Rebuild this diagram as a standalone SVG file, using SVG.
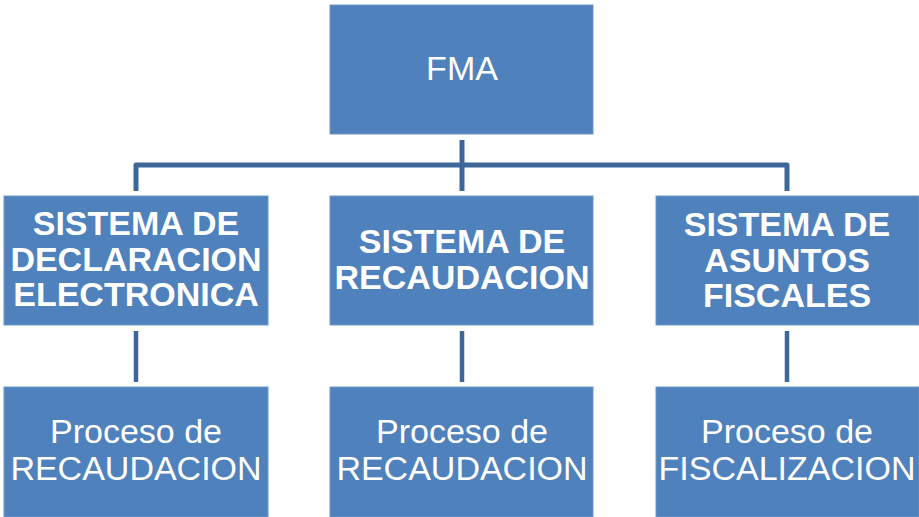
<svg xmlns="http://www.w3.org/2000/svg" width="919" height="517" viewBox="0 0 919 517">
<style>
.box{fill:#4F81BD;stroke:#6F97C9;stroke-width:1}
.t{fill:#FFFFFF;font-family:"Liberation Sans",Arial,sans-serif;text-anchor:middle}
.b{font-weight:bold;font-size:34px}
.r{font-size:34px}
.c{fill:none;stroke:#3D6699;stroke-width:5;stroke-linejoin:round;stroke-linecap:butt}
.c2{fill:none;stroke:#3D6699;stroke-width:4.5}
</style>
<rect width="919" height="517" fill="#FFFFFF"/>
<g id="connectors">
<path class="c" d="M462 140 V191"/>
<path class="c" d="M136 191 V165 H787 V191"/>
<path class="c2" d="M136 331 V382"/>
<path class="c2" d="M462 331 V382"/>
<path class="c2" d="M787 331 V382"/>
</g>
<g id="fma">
<rect class="box" x="330" y="5" width="263" height="129"/>
<text class="t r" x="462" y="80">FMA</text>
</g>
<g id="sde">
<rect class="box" x="4" y="196" width="264" height="129"/>
<text class="t b" x="136" y="235">SISTEMA DE</text>
<text class="t b" x="136" y="270.5">DECLARACION</text>
<text class="t b" x="136" y="306">ELECTRONICA</text>
</g>
<g id="sr">
<rect class="box" x="330" y="196" width="263" height="129"/>
<text class="t b" x="462" y="253">SISTEMA DE</text>
<text class="t b" x="462" y="289">RECAUDACION</text>
</g>
<g id="saf">
<rect class="box" x="656" y="196" width="263" height="129"/>
<text class="t b" x="787" y="236">SISTEMA DE</text>
<text class="t b" x="787" y="271.5">ASUNTOS</text>
<text class="t b" x="787" y="307">FISCALES</text>
</g>
<g id="pr1">
<rect class="box" x="4" y="387" width="264" height="130"/>
<text class="t r" x="136" y="443">Proceso de</text>
<text class="t r" x="136" y="480">RECAUDACION</text>
</g>
<g id="pr2">
<rect class="box" x="330" y="387" width="263" height="130"/>
<text class="t r" x="462" y="443">Proceso de</text>
<text class="t r" x="462" y="480">RECAUDACION</text>
</g>
<g id="pf">
<rect class="box" x="656" y="387" width="263" height="130"/>
<text class="t r" x="787" y="443">Proceso de</text>
<text class="t r" x="787" y="480">FISCALIZACION</text>
</g>
</svg>
